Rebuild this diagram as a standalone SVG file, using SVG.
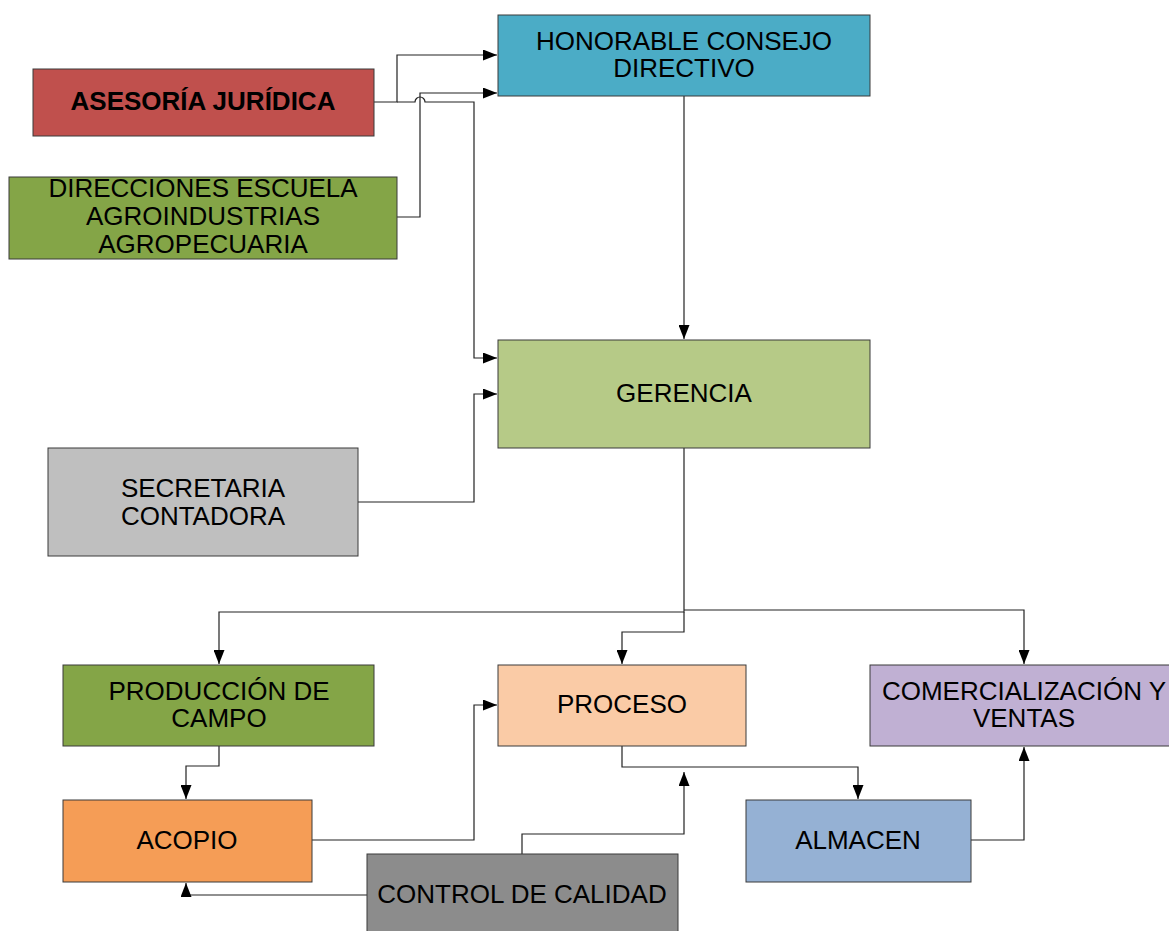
<svg xmlns="http://www.w3.org/2000/svg" width="1169" height="931" viewBox="0 0 1169 931">
<style>
.box{stroke:#3a3a3a;stroke-width:1}
.t{font-family:"Liberation Sans",Arial,sans-serif;font-size:26px;fill:#000;text-anchor:middle;dominant-baseline:central}
.b{font-weight:bold}
.c{fill:none;stroke:#222;stroke-width:1.2}
</style>
<defs>
<marker id="a" markerWidth="14" markerHeight="11" refX="14" refY="5.5" orient="auto" markerUnits="userSpaceOnUse">
<path d="M0,0 L14,5.5 L0,11 Z" fill="#000"/>
</marker>
</defs>
<rect width="1169" height="931" fill="#fff"/>
<g id="connectors">
<path class="c" d="M374,102 H397 V55 H497" marker-end="url(#a)"/>
<path class="c" d="M397,102 H415 A5,5 0 0 1 425,102 H474 V358 H497" marker-end="url(#a)"/>
<path class="c" d="M397,217 H420 V93 H497" marker-end="url(#a)"/>
<path class="c" d="M358,502 H474 V394 H497" marker-end="url(#a)"/>
<path class="c" d="M684,96 V339" marker-end="url(#a)"/>
<path class="c" d="M684,448 V612 H219 V664" marker-end="url(#a)"/>
<path class="c" d="M684,612 V632 H622 V664" marker-end="url(#a)"/>
<path class="c" d="M684,610 H1024 V664" marker-end="url(#a)"/>
<path class="c" d="M219,746 V766 H186 V799" marker-end="url(#a)"/>
<path class="c" d="M312,840 H474 V705 H497" marker-end="url(#a)"/>
<path class="c" d="M522,854 V834 H684 V772" marker-end="url(#a)"/>
<path class="c" d="M367,895 H186 V883" marker-end="url(#a)"/>
<path class="c" d="M622,746 V767 H858 V799" marker-end="url(#a)"/>
<path class="c" d="M971,840 H1024 V747" marker-end="url(#a)"/>
</g>
<g id="asesoria">
<rect class="box" x="33" y="69" width="341" height="67" fill="#C0504D"/>
<text class="t b" x="203" y="101">ASESORÍA JURÍDICA</text>
</g>
<g id="consejo">
<rect class="box" x="498" y="15" width="372" height="81" fill="#4BACC6"/>
<text class="t" x="684" y="41">HONORABLE CONSEJO</text>
<text class="t" x="684" y="68">DIRECTIVO</text>
</g>
<g id="direcciones">
<rect class="box" x="9" y="177" width="388" height="82" fill="#84A547"/>
<text class="t" x="203" y="188">DIRECCIONES ESCUELA</text>
<text class="t" x="203" y="216">AGROINDUSTRIAS</text>
<text class="t" x="203" y="244">AGROPECUARIA</text>
</g>
<g id="gerencia">
<rect class="box" x="498" y="340" width="372" height="108" fill="#B6CA87"/>
<text class="t" x="684" y="393">GERENCIA</text>
</g>
<g id="secretaria">
<rect class="box" x="48" y="448" width="310" height="108" fill="#BFBFBF"/>
<text class="t" x="203" y="488">SECRETARIA</text>
<text class="t" x="203" y="516">CONTADORA</text>
</g>
<g id="produccion">
<rect class="box" x="63" y="665" width="311" height="81" fill="#84A547"/>
<text class="t" x="219" y="691">PRODUCCIÓN DE</text>
<text class="t" x="219" y="718">CAMPO</text>
</g>
<g id="proceso">
<rect class="box" x="498" y="665" width="248" height="81" fill="#FACBA6"/>
<text class="t" x="622" y="704">PROCESO</text>
</g>
<g id="comercializacion">
<rect class="box" x="870" y="665" width="305" height="81" fill="#C0B0D3"/>
<text class="t" x="1024" y="691">COMERCIALIZACIÓN Y</text>
<text class="t" x="1024" y="718">VENTAS</text>
</g>
<g id="acopio">
<rect class="box" x="63" y="800" width="249" height="82" fill="#F59D56"/>
<text class="t" x="187" y="840">ACOPIO</text>
</g>
<g id="almacen">
<rect class="box" x="746" y="800" width="225" height="82" fill="#95B1D4"/>
<text class="t" x="858" y="840">ALMACEN</text>
</g>
<g id="control">
<rect class="box" x="367" y="854" width="311" height="90" fill="#8C8C8C"/>
<text class="t" x="522" y="894">CONTROL DE CALIDAD</text>
</g>
</svg>
